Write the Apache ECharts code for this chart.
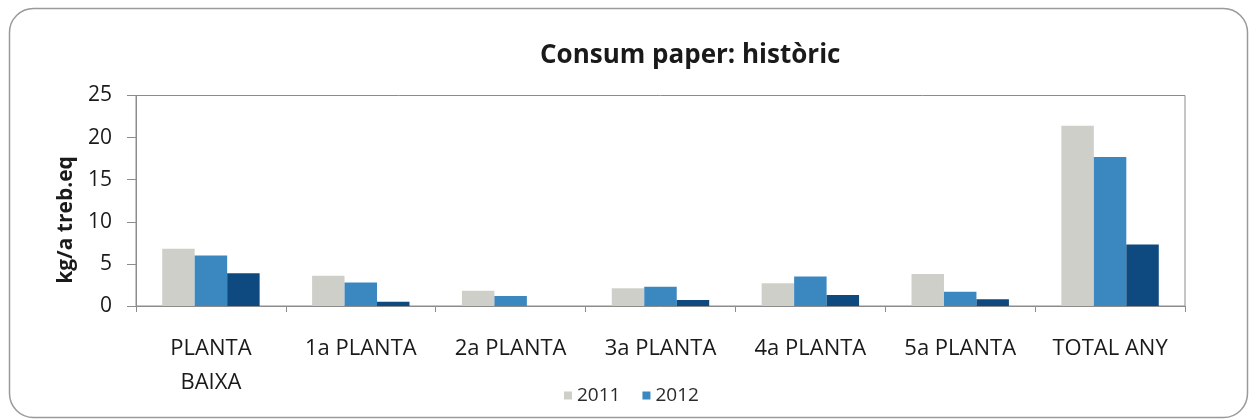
<!DOCTYPE html>
<html>
<head>
<meta charset="utf-8">
<script src="https://cdn.jsdelivr.net/npm/echarts@6/dist/echarts.min.js"></script>
<style>
html,body{margin:0;padding:0;background:#fff;}
#chart{width:1251px;height:419px;}
</style>
</head>
<body>
<div id="chart"></div>
<script>
const categories = ['PLANTA BAIXA', '1a PLANTA', '2a PLANTA', '3a PLANTA', '4a PLANTA', '5a PLANTA', 'TOTAL ANY'];
const seriesNames = ['2011', '2012', '2013'];
const values2011 = [6.8, 3.6, 1.8, 2.1, 2.7, 3.8, 21.4];
const values2012 = [6.0, 2.8, 1.2, 2.3, 3.5, 1.7, 17.7];
const values2013 = [3.9, 0.5, 0, 0.7, 1.3, 0.8, 7.3];
const yTicks = [0, 5, 10, 15, 20, 25];
const titleText = 'Consum paper: històric';
const yAxisTitle = 'kg/a treb.eq';

const FONT = '"Open Sans", sans-serif';
const chart = echarts.init(document.getElementById('chart'), null, {renderer: 'canvas'});
chart.setOption({
  animation: false,
  backgroundColor: '#ffffff',
  title: {
    text: titleText,
    left: 535,
    top: 38,
    textStyle: {fontFamily: FONT, fontSize: 26, fontWeight: 'bold', color: '#1a1a1a'}
  },
  legend: {
    data: ['2011', '2012'],
    left: 559,
    top: 381,
    icon: 'rect',
    itemWidth: 8,
    itemHeight: 8,
    itemGap: 22,
    textStyle: {fontFamily: FONT, fontSize: 19, color: '#2a2a2a'}
  },
  grid: {
    left: 136, right: 66, top: 95.5, bottom: 113,
    show: true, borderColor: '#8c8c8c', borderWidth: 1
  },
  xAxis: {
    type: 'category',
    data: categories,
    axisLine: {lineStyle: {color: '#8c8c8c'}},
    axisTick: {show: true, length: 6, lineStyle: {color: '#8c8c8c'}},
    axisLabel: {
      fontFamily: FONT, fontSize: 22, color: '#1a1a1a', margin: 26, lineHeight: 34,
      interval: 0,
      formatter: v => v === 'PLANTA BAIXA' ? 'PLANTA\nBAIXA' : v
    }
  },
  yAxis: {
    type: 'value',
    min: yTicks[0], max: yTicks[yTicks.length - 1], interval: 5,
    axisLine: {show: true, lineStyle: {color: '#8c8c8c'}},
    axisTick: {show: true, length: 9, lineStyle: {color: '#8c8c8c'}},
    splitLine: {show: false},
    axisLabel: {fontFamily: FONT, fontSize: 21, color: '#1a1a1a', margin: 24}
  },
  graphic: [
    {
      type: 'rect', left: 7, top: 6, z: -1,
      shape: {width: 1238, height: 409, r: 24},
      style: {fill: 'none', stroke: '#9a9a9a', lineWidth: 1.5}
    },
    {
      type: 'text', x: 66, y: 220, rotation: Math.PI / 2,
      style: {text: yAxisTitle, fontFamily: FONT, fontSize: 21, fontWeight: 'bold', fill: '#1a1a1a', align: 'center', verticalAlign: 'middle'}
    }
  ],
  series: [
    {name: seriesNames[0], type: 'bar', data: values2011, barGap: '0%', barCategoryGap: '35%', itemStyle: {color: '#cfcfca'}},
    {name: seriesNames[1], type: 'bar', data: values2012, barGap: '0%', barCategoryGap: '35%', itemStyle: {color: '#3b87c0'}},
    {name: seriesNames[2], type: 'bar', data: values2013, barGap: '0%', barCategoryGap: '35%', itemStyle: {color: '#0e4a7f'}}
  ]
});
</script>
</body>
</html>
